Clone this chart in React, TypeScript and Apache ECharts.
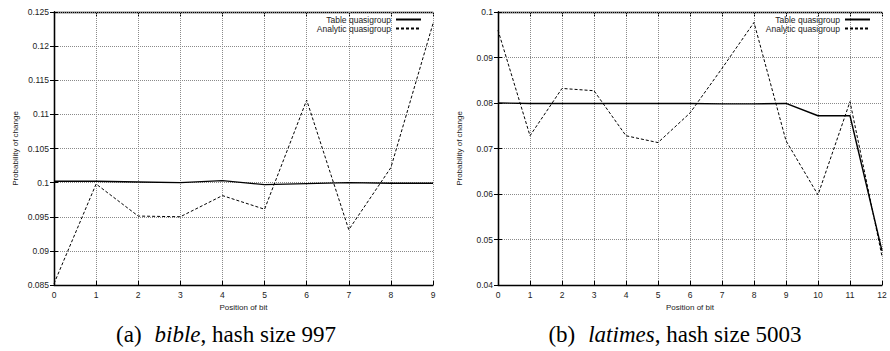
import React, { useEffect, useRef } from "react";
import * as echarts from "echarts";

const bibleBits = [0, 1, 2, 3, 4, 5, 6, 7, 8, 9];
const bibleTable = [0.1002, 0.1002, 0.1001, 0.1, 0.1003, 0.0997, 0.09985, 0.1, 0.0999, 0.0999];
const bibleAnalytic = [0.0852, 0.0998, 0.0951, 0.095, 0.0981, 0.0961, 0.1121, 0.0931, 0.1022, 0.1233];

const latimesBits = [0, 1, 2, 3, 4, 5, 6, 7, 8, 9, 10, 11, 12];
const latimesTable = [0.08, 0.0799, 0.0799, 0.0799, 0.0799, 0.0799, 0.0799, 0.0798, 0.0798, 0.0799, 0.0772, 0.0772, 0.0475];
const latimesAnalytic = [0.096, 0.0728, 0.0832, 0.0827, 0.0728, 0.0713, 0.0778, 0.0876, 0.0977, 0.0717, 0.0598, 0.0803, 0.0463];

const seriesNames = ["Table quasigroup", "Analytic quasigroup"];
const xAxisName = "Position of bit";
const yAxisName = "Probability of change";

const FONT = "'Liberation Sans', Arial, sans-serif";
const SERIF = "'Liberation Serif', 'Times New Roman', serif";

const fmt = (v: number) => String(+v.toFixed(4));

function pairs(xs: number[], ys: number[]) {
  return xs.map((x, i) => [x, ys[i]]);
}

export default function App() {
  const ref = useRef<HTMLDivElement>(null);
  useEffect(() => {
    document.body.style.margin = "0";
    const chart = echarts.init(ref.current!, null, { renderer: "svg" });
    const grids = [
      { left: 54, top: 12, width: 379, height: 273 },
      { left: 498, top: 12, width: 384, height: 273 },
    ];
    const xRanges = [
      { min: 0, max: 9 },
      { min: 0, max: 12 },
    ];
    const yRanges = [
      { min: 0.085, max: 0.125, interval: 0.005 },
      { min: 0.04, max: 0.1, interval: 0.01 },
    ];
    const split = { show: true, lineStyle: { color: "#8a8a8a", type: "dotted", width: 1 } };
    const xAxes: any[] = [];
    const yAxes: any[] = [];
    [0, 1].forEach((g) => {
      xAxes.push({
        type: "value",
        gridIndex: g,
        position: "bottom",
        min: xRanges[g].min,
        max: xRanges[g].max,
        interval: 1,
        name: xAxisName,
        nameLocation: "middle",
        nameGap: 18,
        nameTextStyle: { fontFamily: FONT, fontSize: 8, color: "#222" },
        axisLine: { show: true, lineStyle: { color: "#000", width: 1.3 } },
        axisTick: { show: true, inside: true, length: 4, lineStyle: { color: "#000" } },
        axisLabel: { fontFamily: FONT, fontSize: 8.5, color: "#222", margin: 5 },
        splitLine: split,
        z: 1,
      });
      xAxes.push({
        type: "value",
        gridIndex: g,
        position: "top",
        min: xRanges[g].min,
        max: xRanges[g].max,
        interval: 1,
        axisLine: { show: true, lineStyle: { color: "#000", width: 1.3 } },
        axisTick: { show: true, inside: true, length: 4, lineStyle: { color: "#000" } },
        axisLabel: { show: false },
        splitLine: { show: false },
      });
      yAxes.push({
        type: "value",
        gridIndex: g,
        position: "left",
        min: yRanges[g].min,
        max: yRanges[g].max,
        interval: yRanges[g].interval,
        name: yAxisName,
        nameLocation: "middle",
        nameGap: 35,
        nameTextStyle: { fontFamily: FONT, fontSize: 8, color: "#222" },
        axisLine: { show: true, lineStyle: { color: "#000", width: 1.3 } },
        axisTick: { show: true, inside: true, length: 4, lineStyle: { color: "#000" } },
        axisLabel: { fontFamily: FONT, fontSize: 8.5, color: "#222", margin: 5, formatter: fmt },
        splitLine: split,
        z: 1,
      });
      yAxes.push({
        type: "value",
        gridIndex: g,
        position: "right",
        min: yRanges[g].min,
        max: yRanges[g].max,
        interval: yRanges[g].interval,
        axisLine: { show: true, lineStyle: { color: "#000", width: 1.3 } },
        axisTick: { show: true, inside: true, length: 4, lineStyle: { color: "#000" } },
        axisLabel: { show: false },
        splitLine: { show: false },
      });
    });

    const mk = (name: string, data: number[][], g: number, dashed: boolean) => ({
      type: "line",
      name,
      xAxisIndex: g * 2,
      yAxisIndex: g * 2,
      data,
      symbol: "none",
      z: 3,
      lineStyle: dashed
        ? { color: "#000", width: 1, type: [3, 2] }
        : { color: "#000", width: 1.4, type: "solid" },
      itemStyle: { color: "#000" },
    });

    const legend = (right: number) => ({
      orient: "vertical",
      right,
      top: 15,
      align: "right",
      itemWidth: 25,
      itemHeight: 10,
      itemGap: 0,
      padding: 0,
      data: seriesNames,
      itemStyle: { color: "rgba(0,0,0,0)", borderColor: "rgba(0,0,0,0)", borderWidth: 0 },
      textStyle: { fontFamily: FONT, fontSize: 8.5, color: "#222" },
    });

    const captionRich = {
      n: { fontFamily: SERIF, fontSize: 23, fill: "#000" },
      i: { fontFamily: SERIF, fontSize: 23, fontStyle: "italic", fill: "#000", padding: [0, 0, 0, 13] },
    };

    chart.setOption({
      animation: false,
      backgroundColor: "#fff",
      grid: grids.map((gr) => ({ ...gr, show: false })),
      xAxis: xAxes,
      yAxis: yAxes,
      legend: [legend(468), legend(19)],
      series: [
        mk(seriesNames[0], pairs(bibleBits, bibleTable), 0, false),
        mk(seriesNames[1], pairs(bibleBits, bibleAnalytic), 0, true),
        mk(seriesNames[0], pairs(latimesBits, latimesTable), 1, false),
        mk(seriesNames[1], pairs(latimesBits, latimesAnalytic), 1, true),
      ],
      graphic: [
        {
          type: "text",
          x: 226,
          y: 334,
          style: {
            text: "{n|(a)}{i|bible}{n|, hash size 997}",
            align: "center",
            verticalAlign: "middle",
            rich: captionRich,
          },
        },
        {
          type: "text",
          x: 675,
          y: 334,
          style: {
            text: "{n|(b)}{i|latimes}{n|, hash size 5003}",
            align: "center",
            verticalAlign: "middle",
            rich: captionRich,
          },
        },
      ],
    });
    return () => chart.dispose();
  }, []);
  return <div ref={ref} style={{ width: 890, height: 351 }} />;
}
